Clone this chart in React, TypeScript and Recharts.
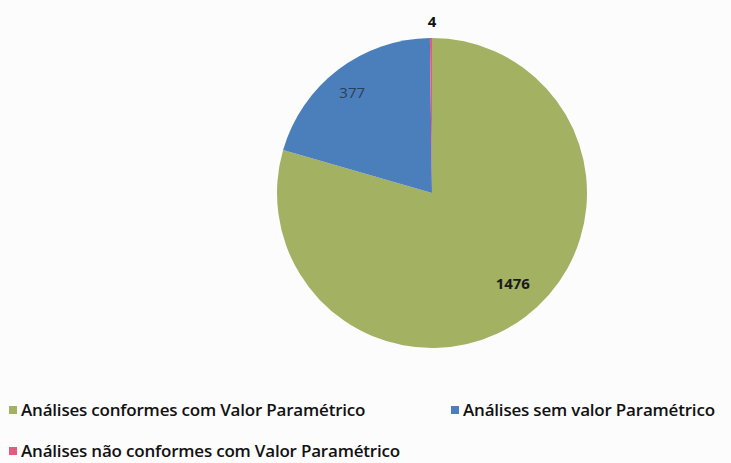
import React from "react";
import { PieChart, Pie, Cell, Legend } from "recharts";

const categories = [
  "Análises conformes com Valor Paramétrico",
  "Análises sem valor Paramétrico",
  "Análises não conformes com Valor Paramétrico",
];
const values = [1476, 377, 4];
const colors = ["#a3b163", "#4a7fbb", "#e45c7c"];

const data = categories.map((name, i) => ({ name, value: values[i] }));

const RADIAN = Math.PI / 180;

// label radius as fraction of the pie, per slice
const labelRadius = [0.78, 0.83];
const labelTurn = [5, 1];

const renderLabel = (props: any) => {
  const { cx, cy, midAngle, outerRadius, value, index } = props;
  if (index === 2) {
    return (
      <text x={cx} y={cy - outerRadius - 11} textAnchor="middle" fill="#111" fontSize={15} fontWeight={700}>
        {value}
      </text>
    );
  }
  const r = outerRadius * labelRadius[index];
  const a = (midAngle + labelTurn[index]) * RADIAN;
  const x = cx + r * Math.cos(-a);
  const y = cy + r * Math.sin(-a);
  return (
    <text
      x={x}
      y={y}
      textAnchor="middle"
      dominantBaseline="central"
      fill={index === 1 ? "#2c3e58" : "#1a1a1a"}
      fontSize={15}
      fontWeight={index === 1 ? 400 : 700}
    >
      {value}
    </text>
  );
};

const legendPos = [
  { left: 9, top: 0 },
  { left: 451, top: 0 },
  { left: 9, top: 41 },
];

const renderLegend = () => (
  <div style={{ position: "relative", width: 731, height: 60 }}>
    {data.map((d, i) => (
      <div
        key={d.name}
        style={{
          position: "absolute",
          left: legendPos[i].left,
          top: legendPos[i].top,
          display: "flex",
          alignItems: "center",
          whiteSpace: "nowrap",
          fontFamily: "'Open Sans', sans-serif",
          fontWeight: 600,
          fontSize: 17,
          color: "#111",
          letterSpacing: -0.2,
        }}
      >
        <span style={{ width: 8, height: 8, background: colors[i], marginRight: 4 }} />
        {d.name}
      </div>
    ))}
  </div>
);

const App = () => (
  <div style={{ position: "absolute", left: 0, top: 0, width: 731, height: 463, background: "#fcfcfc" }}>
    <PieChart
      width={731}
      height={463}
      margin={{ top: 0, right: 0, bottom: 0, left: 0 }}
      style={{ fontFamily: "'Open Sans', sans-serif" }}
    >
      <Pie
        data={data}
        dataKey="value"
        nameKey="name"
        cx={432}
        cy={193}
        outerRadius={155}
        startAngle={90}
        endAngle={-270}
        stroke="none"
        label={renderLabel}
        labelLine={false}
        isAnimationActive={false}
      >
        {data.map((d, i) => (
          <Cell key={d.name} fill={colors[i]} />
        ))}
      </Pie>
      <Legend
        content={renderLegend}
        wrapperStyle={{ left: 0, top: 398, width: 731 }}
      />
    </PieChart>
  </div>
);

export default App;
